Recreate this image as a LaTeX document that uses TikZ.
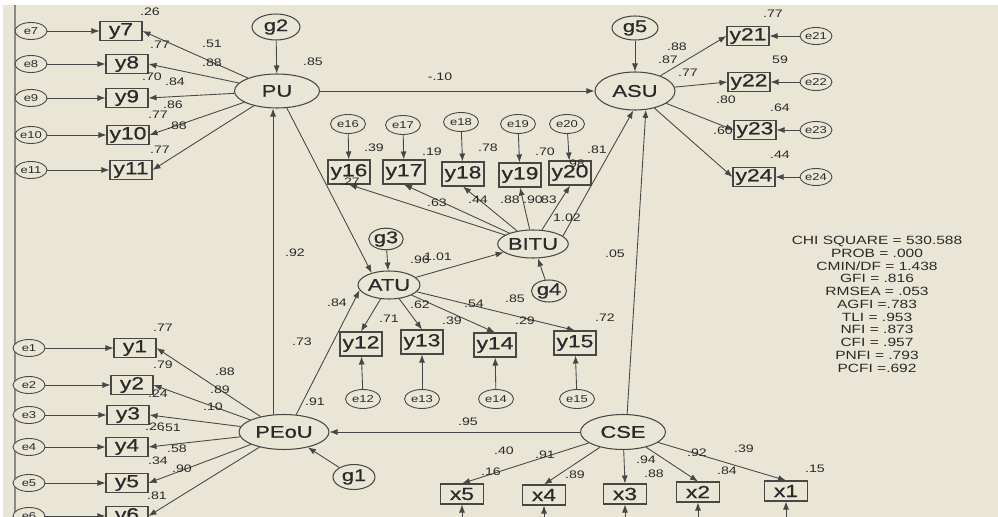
\documentclass[tikz,border=0pt]{standalone}
\usepackage{fontspec}
\usepackage{tikz}
\usetikzlibrary{arrows.meta,shapes.geometric,positioning}
\newfontfamily\amosfont[FakeStretch=1.3]{Liberation Sans}
\newfontfamily\amosheavy[FakeStretch=1.3,FakeBold=0.8]{Liberation Sans}
\definecolor{panelbg}{HTML}{EAE6D6}
\definecolor{ink}{HTML}{2A2A2A}
\definecolor{edge}{HTML}{474747}
\definecolor{frameline}{HTML}{8C8A84}
\tikzset{
  latent/.style={ellipse,draw=edge,fill=panelbg,line width=0.6pt,
                 minimum width=1.7cm,minimum height=0.68cm,inner sep=0pt,
                 font={\amosheavy\fontsize{9.6pt}{10pt}\selectfont},text=ink},
  disturb/.style={ellipse,draw=edge,fill=panelbg,line width=0.6pt,
                  inner sep=0pt,text=ink,
                  font={\amosheavy\fontsize{9.6pt}{10pt}\selectfont}},
  errterm/.style={ellipse,draw=edge,fill=panelbg,line width=0.5pt,
                  minimum width=0.64cm,minimum height=0.34cm,inner sep=0pt,
                  text=ink,font={\amosfont\fontsize{5.7pt}{6pt}\selectfont}},
  item/.style={rectangle,draw=edge,fill=panelbg,line width=0.6pt,
               minimum width=0.84cm,minimum height=0.38cm,inner sep=0pt,
               text=ink,font={\amosheavy\fontsize{10pt}{11pt}\selectfont}},
  link/.style={-{Latex[length=1.6mm,width=1.2mm]},line width=0.5pt,
               draw=edge},
  est/.style={inner sep=0pt,text=ink,
              font={\amosfont\fontsize{6.2pt}{7pt}\selectfont}},
  fitbox/.style={inner sep=0pt,align=center,text=ink,
                 font={\amosfont\fontsize{6.8pt}{7.26pt}\selectfont}}
}
\begin{document}
\begin{tikzpicture}[x=0.02cm,y=-0.02cm]
  \clip (0,0) rectangle (998,517);
  \fill[panelbg] (0,0) rectangle (998,517);
  \fill[white] (0,0) rectangle (998,5);
  \fill[white] (0,0) rectangle (3,517);
  \draw[frameline,line width=0.9pt] (15,5) -- (15,517);

  % latent variables
  \node[latent] (PU) at (277,91) {PU};
  \node[latent,minimum width=1.6cm,minimum height=0.76cm] (ASU) at (635,91) {ASU};
  \node[latent,minimum width=1.24cm,minimum height=0.56cm] (BITU) at (533,244) {BITU};
  \node[latent,minimum width=1.24cm,minimum height=0.56cm] (ATU) at (389,285) {ATU};
  \node[latent,minimum width=1.8cm,minimum height=0.7cm] (PEoU) at (284,432) {PEoU};
  \node[latent,minimum height=0.7cm] (CSE) at (623,432) {CSE};

  % disturbances
  \node[disturb,minimum width=0.96cm,minimum height=0.52cm] (g2) at (276,27) {g2};
  \node[disturb,minimum width=0.92cm,minimum height=0.48cm] (g5) at (635,28) {g5};
  \node[disturb,minimum width=0.68cm,minimum height=0.4cm] (g3) at (386,239) {g3};
  \node[disturb,minimum width=0.7cm,minimum height=0.44cm] (g4) at (549,291) {g4};
  \node[disturb,minimum width=0.84cm,minimum height=0.5cm] (g1) at (354,477) {g1};

  % PU indicators
  \foreach \n/\bx/\by in {7/121/31,8/127/64,9/127/98,10/128/135,11/131/170}{
    \node[item] (y\n) at (\bx,\by) {y\n};
    \node[errterm] (e\n) at (31,\by) {e\n};
    \draw[link] (e\n) -- (y\n);
    \draw[link] (PU) -- (y\n.east);
  }
  % PEoU indicators
  \foreach \n/\bx/\by in {1/135/348,2/132/385,3/128/415,4/127/447,5/127/483,6/127/516}{
    \node[item] (y\n) at (\bx,\by) {y\n};
    \node[errterm] (e\n) at (29,\by) {e\n};
    \draw[link] (e\n) -- (y\n);
    \draw[link] (PEoU) -- (y\n.east);
  }
  % ASU indicators
  \foreach \n/\bx/\by in {21/748/36,22/749/82,23/755/130,24/754/177}{
    \node[item] (y\n) at (\bx,\by) {y\n};
    \node[errterm] (e\n) at (816,\by) {e\n};
    \draw[link] (e\n) -- (y\n);
    \draw[link] (ASU) -- (y\n.west);
  }
  % BITU indicators
  \foreach \n/\bx/\by/\ex/\ey in {16/349/172/348/124,17/404/172/403/125,
      18/463/174/461/122,19/520/175/518/124,20/570/173/567/124}{
    \node[item,minimum height=0.48cm] (y\n) at (\bx,\by) {y\n};
    \node[errterm,minimum width=0.7cm,minimum height=0.38cm] (e\n) at (\ex,\ey) {e\n};
    \draw[link] (e\n) -- (y\n);
    \draw[link] (BITU) -- (y\n.south);
  }
  % ATU indicators
  \foreach \n/\bx/\by/\ex in {12/361/344/363,13/422/342/422,14/495/345/496,15/575/343/577}{
    \node[item,minimum height=0.48cm] (y\n) at (\bx,\by) {y\n};
    \node[errterm,minimum width=0.7cm,minimum height=0.38cm] (e\n) at (\ex,399) {e\n};
    \draw[link] (e\n) -- (y\n);
    \draw[link] (ATU) -- (y\n.north);
  }
  % CSE indicators, error terms below the frame
  \foreach \n/\bx/\by in {5/462/494,4/544/495,3/625/494,2/698/492,1/786/491}{
    \node[item,minimum width=0.86cm,minimum height=0.4cm] (x\n) at (\bx,\by) {x\n};
    \coordinate (u\n) at (\bx,540);
    \draw[link] (u\n) -- (x\n);
    \draw[link] (CSE) -- (x\n.north);
  }

  % structural paths
  \draw[link] (g2) -- (PU);
  \draw[link] (g5) -- (ASU);
  \draw[link] (g3) -- (ATU);
  \draw[link] (g4) -- (BITU);
  \draw[link] (g1) -- (PEoU);
  \draw[link] (PU) -- (ASU);
  \draw[link] (PU.300) -- (ATU.145);
  \draw[link] (PEoU.122) -- (PEoU.122 |- PU.south);
  \draw[link] (PEoU.55) -- (ATU.190);
  \draw[link] (ATU) -- (BITU);
  \draw[link] (BITU.15) -- (ASU.265);
  \draw[link] (CSE.77) -- (ASU.300);
  \draw[link] (CSE) -- (PEoU);

  % estimates
  \foreach \t/\lx/\ly [count=\i] in {
      .26/150/12,.77/160/45,.51/212/44,.88/212/63,.70/152/77,.84/175/82,
      .86/173/105,.77/158/115,.88/177/126,.77/160/150,.85/313/62,
      -.10/440/77,.92/295/253,
      .77/773/14,.88/677/47,.87/668/60,.77/688/73,59/780/60,.80/726/100,
      .64/780/108,.60/723/131,.44/780/155,
      .39/374/148,.19/432/152,.78/488/148,.70/545/152,.81/597/150,
      .27/350/182,.98/575/164,.63/437/203,.44/478/200,.88/510/200,
      .90/533/200,.83/547/200,1.02/567/218,.96/420/260,1.01/438/257,
      .84/337/303,.71/389/319,.62/420/305,.39/452/321,.54/474/304,
      .85/515/299,.29/525/321,.72/605/318,
      .73/302/342,.91/315/402,.77/163/328,.79/163/365,.88/225/372,
      .89/220/390,.24/158/394,.10/213/407,.26/155/427,.51/171/428,
      .58/177/449,.34/158/461,.90/182/469,.81/157/496,
      .95/468/422,.40/504/451,.91/545/455,.16/491/472,.89/575/475,
      .94/646/460,.88/654/474,.92/697/453,.39/744/449,.84/727/471,
      .15/815/469,.05/615/254}{
    \node[est] (lab\i) at (\lx,\ly) {\t};
  }

  \node[fitbox,anchor=north] (fitstats) at (877,236) {%
    CHI SQUARE = 530.588\\ PROB = .000\\ CMIN/DF = 1.438\\ GFI = .816\\
    RMSEA = .053\\ AGFI =.783\\ TLI = .953\\ NFI = .873\\ CFI = .957\\
    PNFI = .793\\ PCFI =.692};
\end{tikzpicture}
\end{document}
